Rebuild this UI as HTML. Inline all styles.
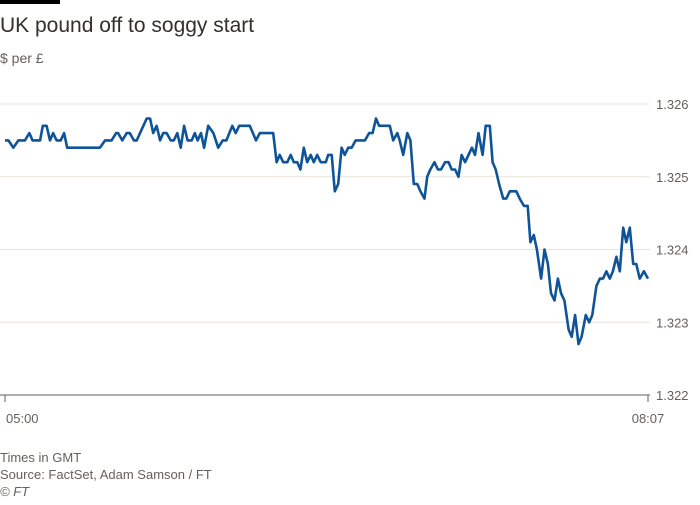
<!DOCTYPE html>
<html><head><meta charset="utf-8"><style>
body{margin:0;background:#fff;width:700px;height:500px;overflow:hidden;font-family:"Liberation Sans",sans-serif}
</style></head><body>
<svg width="700" height="500">
<rect x="0" y="0" width="60" height="4" fill="#000"/>
<text x="0" y="32" font-size="21" fill="#33302e">UK pound off to soggy start</text>
<text x="0" y="63" font-size="14" fill="#66605c">$ per £</text>
<g id="grid"></g>
<path id="line" fill="none" stroke="#0f5499" stroke-width="2.6" stroke-linejoin="round"/>
<g id="xt"></g>
<text x="0" y="462" font-size="13" fill="#66605c">Times in GMT</text>
<text x="0" y="479" font-size="13" fill="#66605c">Source: FactSet, Adam Samson / FT</text>
<text x="0" y="496" font-size="13" fill="#66605c" font-style="italic">© FT</text>
</svg>
<script>
const yTicks=[1.322,1.323,1.324,1.325,1.326];
const xTickMinutes=[0,187];
const xTickLabels=["05:00","08:07"];
const minutes=[0,1,2.4,3.9,5.8,7.1,8,10.2,11,12.1,13.1,14,15,16.2,17.2,18.1,27.6,29.1,31,32.3,32.9,34.1,35.4,36.3,37.5,38.3,41.2,42.2,43.1,44.1,45.1,46,47,48.2,49.1,50.1,51.1,52.1,53.1,54.3,55.2,56,57,57.9,59.1,60.6,62,63.3,64.4,66.1,67.1,68.1,71.2,73,74.1,78,79,79.9,80.9,82.1,83.1,84,85,85.9,86.9,87.9,88.9,89.8,90.8,91.8,
93.3,94,95,95.9,96.9,97.9,98.8,99.8,100.8,102,104.7,105.9,106.9,107.9,108.8,111.9,112.9,114.1,114.8,115.8,117,117.9,118.9,119.9,120.8,122,122.8,123.7,124.9,125.9,126.8,128,129,129.9,130.9,131.9,132.8,133.8,134.8,135.8,136.7,137.7,138.9,139.8,141,141.8,142.7,143.7,144.9,145.8,146.8,148.7,149.7,150.9,152,152.8,153.8,154.7,155.9,156.9,157.9,158.8,159.8,160.8,161.7,162.7,163.9,164.8,165.8,166.8,167.7,168.9,169.9,170.8,172,173,173.9,174.9,175.9,176.8,177.8,178.8,179.8,180.7,181.7,182.7,183.6,184.6,185.8,187];
const values=[1.3255,1.3255,1.3254,1.3255,1.3255,1.3256,1.3255,1.3255,1.3257,1.3257,1.3255,1.3256,1.3255,1.3255,1.3256,1.3254,1.3254,1.3255,1.3255,1.3256,1.3256,1.3255,1.3256,1.3256,1.3255,1.3255,1.3258,1.3258,1.3256,1.3257,1.3255,1.3256,1.3256,1.3255,1.3255,1.3256,1.3254,1.3257,1.3255,1.3255,1.3256,1.3255,1.3256,1.3254,1.3257,1.3256,1.3254,1.3255,1.3255,1.3257,1.3256,1.3257,1.3257,1.3255,1.3256,1.3256,1.3252,1.3253,1.3252,1.3252,1.3253,1.3252,1.3252,1.3251,1.3254,1.3252,1.3253,1.3252,1.3253,1.3252,
1.3252,1.3253,1.3253,1.3248,1.3249,1.3254,1.3253,1.3254,1.3254,1.3255,1.3255,1.3256,1.3256,1.3258,1.3257,1.3257,1.3255,1.3256,1.3255,1.3253,1.3256,1.3255,1.3249,1.3249,1.3248,1.3247,1.325,1.3251,1.3252,1.3251,1.3251,1.3252,1.3252,1.3251,1.3251,1.325,1.3253,1.3252,1.3253,1.3254,1.3253,1.3256,1.3253,1.3257,1.3257,1.3252,1.3251,1.3249,1.3247,1.3247,1.3248,1.3248,1.3247,1.3246,1.3246,1.3241,1.3242,1.324,1.3236,1.324,1.3238,1.3234,1.3233,1.3236,1.3234,1.3233,1.3229,1.3228,1.3231,1.3227,1.3228,1.3231,1.323,1.3231,1.3235,1.3236,1.3236,1.3237,1.3236,1.3237,1.3239,1.3237,1.3243,1.3241,1.3243,1.3238,1.3238,1.3236,1.3237,1.3236];
const NS="http://www.w3.org/2000/svg";
const X=m=>5+m*(643/187);
const Y=v=>395-(v-1.322)*72750;
const grid=document.getElementById('grid');
yTicks.forEach((t,i)=>{
  const l=document.createElementNS(NS,'line');
  l.setAttribute('x1',0);l.setAttribute('x2',650);
  l.setAttribute('y1',Y(t));l.setAttribute('y2',Y(t));
  l.setAttribute('stroke',i===0?'#66605c':'#ebe3dc');l.setAttribute('stroke-width',1);
  
  
  grid.appendChild(l);
  const tx=document.createElementNS(NS,'text');
  tx.setAttribute('x',656);tx.setAttribute('y',Y(t)+5);
  tx.setAttribute('font-size','13');tx.setAttribute('fill','#66605c');
  tx.textContent=t.toFixed(3);
  
  
  grid.appendChild(tx);
});
const xt=document.getElementById('xt');
xTickMinutes.forEach((m,i)=>{
  const l=document.createElementNS(NS,'line');
  l.setAttribute('x1',X(m));l.setAttribute('x2',X(m));l.setAttribute('y1',395);l.setAttribute('y2',402);
  l.setAttribute('stroke','#66605c');
  
  
  xt.appendChild(l);
  const tx=document.createElementNS(NS,'text');
  tx.setAttribute('x',X(m));tx.setAttribute('y',423);
  tx.setAttribute('font-size','13');tx.setAttribute('fill','#66605c');
  tx.setAttribute('text-anchor',i===0?'start':'middle');
  if(i===0)tx.setAttribute('x',X(m)+1);
  tx.textContent=xTickLabels[i];
  
  
  xt.appendChild(tx);
});
document.getElementById('line').setAttribute('d',minutes.map((m,i)=>(i?'L':'M')+X(m).toFixed(1)+','+Y(values[i]).toFixed(1)).join(''));
</script>
</body></html>
